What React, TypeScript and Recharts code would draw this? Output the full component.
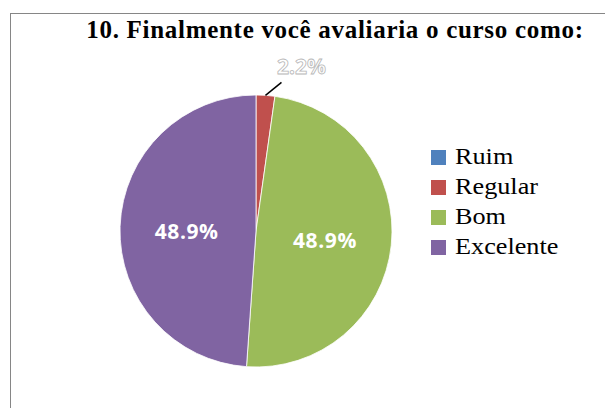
import React from 'react';
import { PieChart, Pie, Cell, Legend } from 'recharts';

const categories = ['Ruim', 'Regular', 'Bom', 'Excelente'];
const counts = [0, 1, 22, 22];
const colors = ['#4F81BD', '#C0504D', '#9BBB59', '#8064A2'];
const title = '10. Finalmente você avaliaria o curso como:';

const data = categories.map((name, i) => ({ name, value: counts[i] }));

const RAD = Math.PI / 180;

const renderLabel = (props: any) => {
  const { cx, cy, midAngle, outerRadius, percent, index } = props;
  if (!percent || percent <= 0) return null;
  const txt = (percent * 100).toFixed(1) + '%';
  const cos = Math.cos(-midAngle * RAD);
  const sin = Math.sin(-midAngle * RAD);
  if (percent < 0.05) {
    const sx = cx + outerRadius * cos;
    const sy = cy + outerRadius * sin;
    const ex = sx + 16;
    const ey = sy - 13;
    return (
      <g key={'lbl' + index}>
        <line x1={sx} y1={sy} x2={ex} y2={ey} stroke="#000" strokeWidth={1.5} />
        <text
          x={ex + 20}
          y={ey - 16}
          textAnchor="middle"
          dominantBaseline="central"
          fontFamily="'Open Sans', sans-serif"
          fontWeight={700}
          fontSize={21}
          fill="#fff"
          stroke="#b8b8b8"
          strokeWidth={0.8}
        >
          {txt}
        </text>
      </g>
    );
  }
  const r = outerRadius * 0.51;
  return (
    <text
      key={'lbl' + index}
      x={cx + r * cos}
      y={cy + r * sin + 2}
      textAnchor="middle"
      dominantBaseline="central"
      fontFamily="'Open Sans', sans-serif"
      fontWeight={700}
      fontSize={21}
      letterSpacing={0.6}
      fill="#fff"
    >
      {txt}
    </text>
  );
};

const renderLegend = () => (
  <div>
    {categories.map((c, i) => (
      <div key={c} style={{ display: 'flex', alignItems: 'center', height: 30 }}>
        <div style={{ width: 15, height: 15, background: colors[i], marginRight: 9, flex: 'none' }} />
        <span
          style={{
            display: 'inline-block',
            transform: 'scaleX(1.14)',
            transformOrigin: 'left center',
            fontFamily: "'Liberation Serif', 'Times New Roman', serif",
            fontSize: 23,
            color: '#000',
            lineHeight: '30px',
            whiteSpace: 'nowrap',
          }}
        >
          {c}
        </span>
      </div>
    ))}
  </div>
);

export default function App() {
  return (
    <div style={{ position: 'absolute', left: 0, top: 0, width: 605, height: 408, overflow: 'hidden', background: '#fff' }}>
      <div
        style={{
          position: 'absolute',
          left: 10,
          top: 13,
          width: 600,
          height: 400,
          borderLeft: '1.5px solid #868686',
          borderTop: '1.5px solid #868686',
        }}
      />
      <div
        style={{
          position: 'absolute',
          left: 60,
          top: 13,
          width: 550,
          textAlign: 'center',
          fontFamily: "'Liberation Serif', 'Times New Roman', serif",
          fontWeight: 700,
          fontSize: 25,
          letterSpacing: 0.7,
          lineHeight: '34px',
          color: '#000',
          whiteSpace: 'nowrap',
        }}
      >
        {title}
      </div>
      <div style={{ position: 'absolute', left: 0, top: 0 }}>
        <PieChart width={605} height={408} margin={{ top: 0, right: 0, bottom: 0, left: 0 }}>
          <Pie
            data={data}
            dataKey="value"
            nameKey="name"
            cx={256}
            cy={231}
            outerRadius={136}
            startAngle={90}
            endAngle={-270}
            stroke="#ffffff"
            strokeWidth={0.8}
            label={renderLabel}
            labelLine={false}
            isAnimationActive={false}
          >
            {data.map((d, i) => (
              <Cell key={d.name} fill={colors[i]} />
            ))}
          </Pie>
          <Legend
            content={renderLegend}
            wrapperStyle={{ position: 'absolute', left: 431, top: 142, width: 170 }}
          />
        </PieChart>
      </div>
    </div>
  );
}
